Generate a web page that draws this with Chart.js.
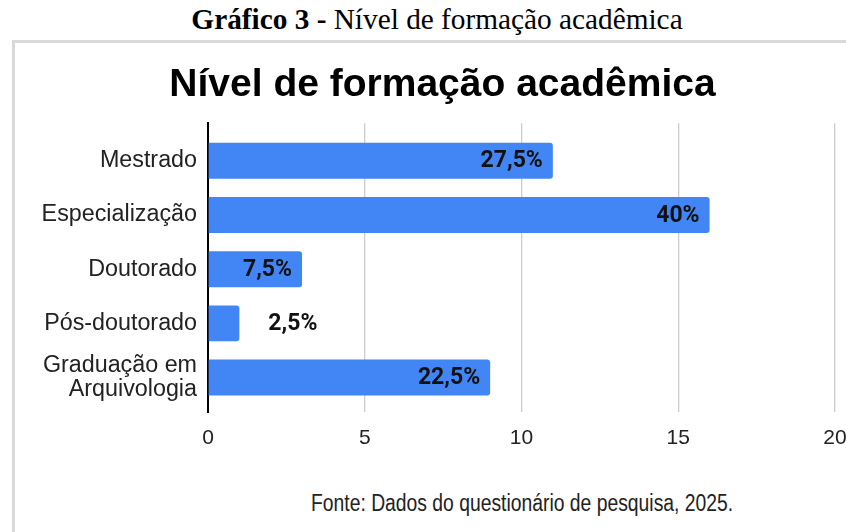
<!DOCTYPE html>
<html>
<head>
<meta charset="utf-8">
<script src="https://cdn.jsdelivr.net/npm/chart.js@4.4.1/dist/chart.umd.min.js"></script>
<style>
    html, body { margin: 0; padding: 0; background: #fff; overflow: hidden; width: 846px; height: 532px; }
    #caption {
        position: absolute; left: 0; top: 3px; width: 874px; text-align: center;
        font-family: "Liberation Serif", "Times New Roman", serif; font-size: 29.3px; color: #000;
        white-space: nowrap;
    }
    #frame {
        position: absolute; left: 12px; top: 40px; width: 900px; height: 600px;
        border-left: 3px solid #d9d9d9; border-top: 3px solid #d9d9d9;
    }
    #chartBox { position: absolute; left: 15px; top: 43px; width: 855px; height: 440px; }
    #fonte {
        position: absolute; left: 311px; top: 492px; white-space: nowrap;
        font-family: "Liberation Sans", Arial, sans-serif; font-size: 23px; line-height: 23px; color: #222;
        transform: scaleX(0.84); transform-origin: 0 0;
    }
</style>
</head>
<body>
<div id="caption"><b>Gráfico 3 -</b> Nível de formação acadêmica</div>
<div id="frame"></div>
<div id="chartBox"><canvas id="formacaoChart"></canvas></div>
<div id="fonte">Fonte: Dados do questionário de pesquisa, 2025.</div>

<script>
// -----------------------------
// DATA
// -----------------------------
const categories = ['Mestrado', 'Especialização', 'Doutorado', 'Pós-doutorado', ['Graduação em', 'Arquivologia']];
const respondents = [11, 16, 3, 1, 9];
const pctLabels = ['27,5%', '40%', '7,5%', '2,5%', '22,5%'];
const xTicks = [0, 5, 10, 15, 20];

// -----------------------------
// PLUGIN: value labels on bars
// -----------------------------
const barLabels = {
    id: 'barLabels',
    afterDatasetsDraw(chart) {
        const ctx = chart.ctx;
        const meta = chart.getDatasetMeta(0);
        ctx.save();
        ctx.font = 'bold 23px Roboto, "Liberation Sans", Arial, sans-serif';
        ctx.fillStyle = '#111';
        ctx.textBaseline = 'middle';
        meta.data.forEach((bar, i) => {
            const text = pctLabels[i];
            const w = ctx.measureText(text).width;
            if (bar.x - bar.base > w + 20) {
                ctx.textAlign = 'right';
                ctx.fillText(text, bar.x - 10, bar.y + 1);
            } else {
                ctx.textAlign = 'left';
                ctx.fillText(text, bar.x + 29, bar.y + 1);
            }
        });
        ctx.restore();
    }
};

// the original chart is wider than the crop, so its title sits right of the plot centre
const titleShift = {
    id: 'titleShift',
    afterLayout(chart) {
        if (chart.titleBlock) chart.titleBlock.left = 35;
    }
};

// -----------------------------
// RENDER CHART
// -----------------------------
function renderFormacaoChart() {
    const canvas = document.getElementById('formacaoChart');
    if (!canvas) return;

    new Chart(canvas, {
        type: 'bar',
        data: {
            datasets: [{
                data: respondents.map((v, i) => ({ x: v, y: i })),
                backgroundColor: '#4285f4',
                borderRadius: 3,
                barPercentage: 0.663,
                categoryPercentage: 1
            }]
        },
        options: {
            indexAxis: 'y',
            responsive: true,
            maintainAspectRatio: false,
            animation: false,
            layout: { padding: { left: 0, right: 35, top: 0, bottom: 18.5 } },
            plugins: {
                legend: { display: false },
                tooltip: { enabled: false },
                title: {
                    display: true,
                    text: 'Nível de formação acadêmica',
                    color: '#000',
                    font: { family: '"Liberation Sans", Arial, sans-serif', size: 39, weight: 'bold' },
                    padding: { top: 18.6, bottom: 14.9 }
                }
            },
            scales: {
                x: {
                    min: xTicks[0],
                    max: xTicks[xTicks.length - 1],
                    afterBuildTicks: axis => { axis.ticks = xTicks.map(v => ({ value: v })); },
                    grid: {
                        drawTicks: false,
                        lineWidth: 1.3,
                        color: c => c.tick && c.tick.value === 0 ? 'rgba(0,0,0,0)' : '#cccccc'
                    },
                    border: { display: false },
                    ticks: {
                        padding: 13.5,
                        color: '#222',
                        font: { family: '"Liberation Sans", Arial, sans-serif', size: 21 }
                    }
                },
                y: {
                    type: 'linear',
                    reverse: true,
                    offset: false,
                    min: -0.69,
                    max: 4.64,
                    afterBuildTicks: axis => { axis.ticks = categories.map((c, i) => ({ value: i })); },
                    afterFit: axis => {
                        axis.width = 193;
                        axis.paddingTop = 0;
                        axis.paddingBottom = 0;
                    },
                    grid: { display: false, drawTicks: false, offset: false },
                    border: { display: true, color: '#000', width: 2 },
                    ticks: {
                        autoSkip: false,
                        padding: 11,
                        color: '#222',
                        font: { family: '"Liberation Sans", Arial, sans-serif', size: 23.3, lineHeight: 1.0 },
                        callback: v => categories[v]
                    }
                }
            }
        },
        plugins: [barLabels, titleShift]
    });
}

document.addEventListener('DOMContentLoaded', renderFormacaoChart);
</script>
</body>
</html>
